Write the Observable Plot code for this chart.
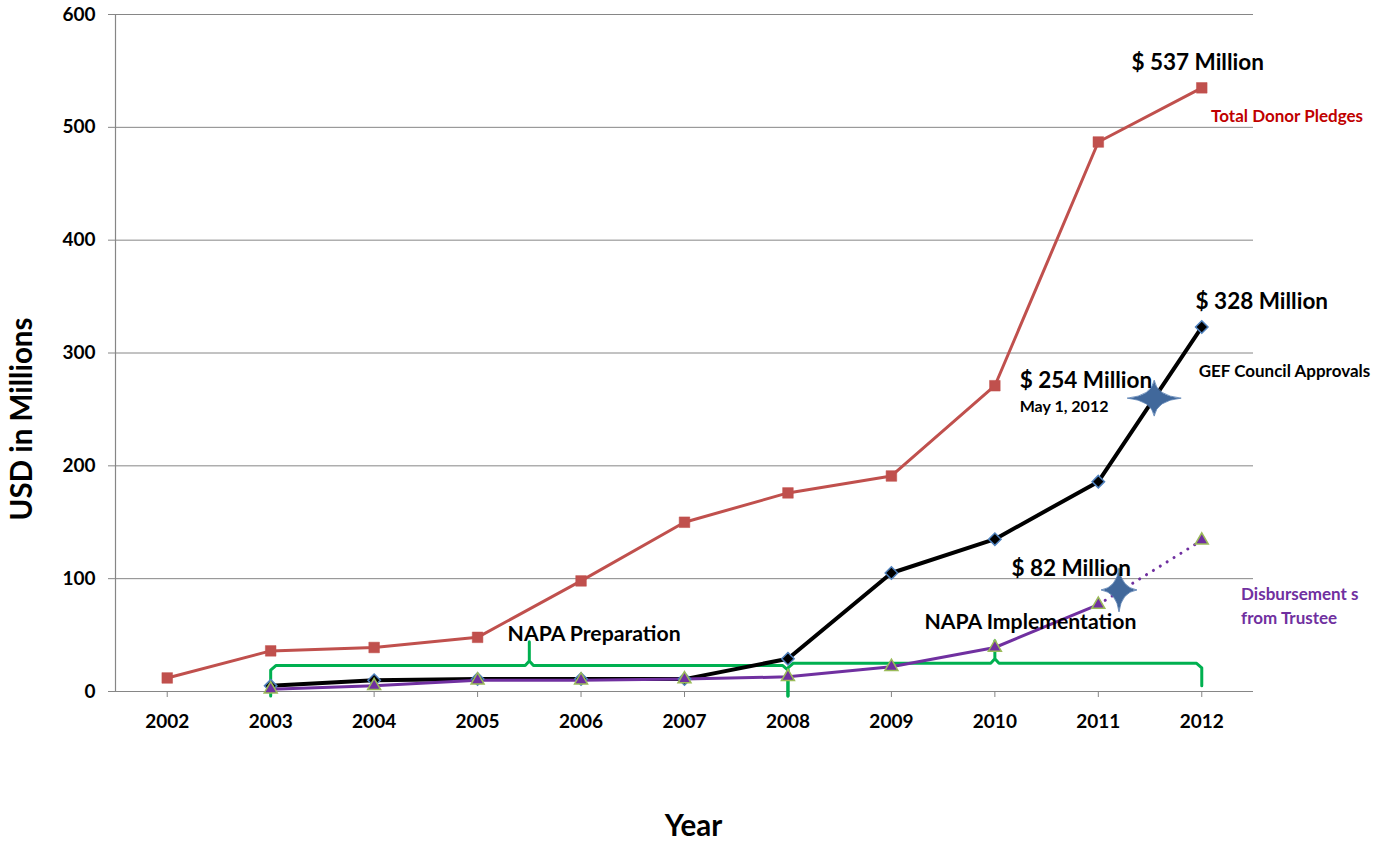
<!DOCTYPE html>
<html>
<head>
<meta charset="utf-8">
<script src="https://cdn.jsdelivr.net/npm/d3@7"></script>
<script src="https://cdn.jsdelivr.net/npm/@observablehq/plot@0.6"></script>
<style>
  html, body { margin: 0; padding: 0; background: white; }
  #chart svg { display: block; }
</style>
</head>
<body>
<div id="chart"></div>
<script>
// ---- Data ----
const years = [2002, 2003, 2004, 2005, 2006, 2007, 2008, 2009, 2010, 2011, 2012];
const pledges = [12, 36, 39, 48, 98, 150, 176, 191, 271, 487, 535];

const approvalYears = [2003, 2004, 2005, 2006, 2007, 2008, 2009, 2010, 2011, 2012];
const approvals = [5, 10, 11, 11, 11, 29, 105, 135, 186, 323];

const disbYears = [2003, 2004, 2005, 2006, 2007, 2008, 2009, 2010, 2011, 2012];
const disbursements = [2, 5, 10, 10, 11, 13, 22, 39, 77, 134];
const lastActualYear = 2011; // solid up to here, dotted projection after

const yTicks = [0, 100, 200, 300, 400, 500, 600];

// highlighted points (stars)
const starYears = [2011.54, 2011.2];
const starValues = [260, 90];

// NAPA period brackets
const bracketNames = ["NAPA Preparation", "NAPA Implementation"];
const bracketStart = [2003, 2008];
const bracketPeak = [2005.5, 2010];
const bracketEnd = [2008, 2012];
const bracketLevel = [23, 25];
const bracketTop = [44, 45];
const bracketStartBottom = [-4, -4];
const bracketEndBottom = [-4, 5];

// value annotations
const topLabel = "$ 537 Million";
const annoText = ["$ 328 Million", "$ 254 Million", "$ 82 Million"];
const annoX = [2011.94, 2010.24, 2010.16];
const annoY = [345, 275, 109];

// ---- Build tables ----
const pledgeRows = years.map((y, i) => ({year: y, value: pledges[i]}));
const approvalRows = approvalYears.map((y, i) => ({year: y, value: approvals[i]}));
const disbRows = disbYears.map((y, i) => ({year: y, value: disbursements[i]}));
const disbSolid = disbRows.filter(d => d.year <= lastActualYear);
const disbDotted = disbRows.filter(d => d.year >= lastActualYear);
const annoRows = annoText.map((t, i) => ({text: t, x: annoX[i], y: annoY[i]}));

function bracketPath(i) {
  const s = bracketStart[i], p = bracketPeak[i], e = bracketEnd[i];
  const L = bracketLevel[i], T = bracketTop[i];
  const dx = 0.05, dy = 4, px = 0.04;
  return [
    {x: s, y: bracketStartBottom[i]},
    {x: s, y: L - dy},
    {x: s + dx, y: L},
    {x: p - px, y: L},
    {x: p, y: L + dy},
    {x: p, y: T},
    {x: p, y: L + dy},
    {x: p + px, y: L},
    {x: e - dx, y: L},
    {x: e, y: L - dy},
    {x: e, y: bracketEndBottom[i]}
  ].map(d => ({...d, b: i}));
}
const bracketRows = bracketNames.flatMap((_, i) => bracketPath(i));

function star(w, h, c) {
  return {
    draw(ctx) {
      const a = w / 2, b = h / 2;
      ctx.moveTo(0, -b);
      ctx.quadraticCurveTo(c * 0.6, -c * 0.6, a, 0);
      ctx.quadraticCurveTo(c * 0.6, c * 0.6, 0, b);
      ctx.quadraticCurveTo(-c * 0.6, c * 0.6, -a, 0);
      ctx.quadraticCurveTo(-c * 0.6, -c * 0.6, 0, -b);
      ctx.closePath();
    }
  };
}

const FONT = "Lato, 'Open Sans', sans-serif";
const GRID = "#868686";

const chart = Plot.plot({
  width: 1395,
  height: 845,
  marginLeft: 115,
  marginRight: 142,
  marginTop: 14,
  marginBottom: 154,
  style: {fontFamily: FONT, fontWeight: "bold", background: "white", overflow: "visible"},
  x: {type: "linear", domain: [2001.5, 2012.5]},
  y: {domain: [0, 600]},
  marks: [
    Plot.ruleY(yTicks.filter(d => d > 0), {stroke: GRID, strokeWidth: 1}),
    Plot.ruleY([0], {stroke: GRID, strokeWidth: 1.2}),
    Plot.ruleX([2001.5], {stroke: GRID, strokeWidth: 1.2}),
    Plot.axisY({ticks: yTicks, tickSize: 7, tickPadding: 13, fontSize: 19, fontWeight: "bold",
      stroke: GRID, fill: "black", label: null}),
    Plot.axisX({ticks: years, tickFormat: d => String(d), tickSize: 6, tickPadding: 17,
      fontSize: 19, fontWeight: "bold", stroke: GRID, fill: "black", label: null}),

    // brackets
    Plot.line(bracketRows, {x: "x", y: "y", z: "b", stroke: "#00b050", strokeWidth: 3,
      strokeLinejoin: "round", strokeLinecap: "round"}),

    // series lines
    Plot.line(pledgeRows, {x: "year", y: "value", stroke: "#c0504d", strokeWidth: 3}),
    Plot.line(approvalRows, {x: "year", y: "value", stroke: "black", strokeWidth: 4}),
    Plot.line(disbSolid, {x: "year", y: "value", stroke: "#7030a0", strokeWidth: 3}),
    Plot.line(disbDotted, {x: "year", y: "value", stroke: "#7030a0", strokeWidth: 3,
      strokeDasharray: "0.1 8", strokeLinecap: "round"}),

    // markers
    Plot.dot(pledgeRows, {x: "year", y: "value", symbol: "square", r: 6, fill: "#c0504d", stroke: "#c0504d", strokeWidth: 0.5}),
    Plot.dot(approvalRows, {x: "year", y: "value", symbol: "diamond2", r: 5.6, fill: "black", stroke: "#4f81bd", strokeWidth: 1.5}),
    Plot.dot(disbRows, {x: "year", y: "value", symbol: "triangle2", r: 6.2, fill: "#7030a0", stroke: "#9bbb59", strokeWidth: 1.5}),

    // stars
    Plot.dot([0], {x: () => starYears[0], y: () => starValues[0], symbol: star(54, 36, 4), fill: "#41689b", stroke: "#5b82b4", strokeWidth: 0.8}),
    Plot.dot([1], {x: () => starYears[1], y: () => starValues[1], symbol: star(36, 44, 4), fill: "#41689b", stroke: "#5b82b4", strokeWidth: 0.8}),

    // value annotations
    Plot.text([topLabel], {x: 2011.96, y: 557, textAnchor: "middle", fontSize: 22.5, fontWeight: "bold", fill: "black"}),
    Plot.text(annoRows, {x: "x", y: "y", text: "text", textAnchor: "start", fontSize: 22.5, fontWeight: "bold", fill: "black"}),
    Plot.text(["May 1, 2012"], {x: annoX[1], y: 252, textAnchor: "start", fontSize: 16, fontWeight: "bold", fill: "black"}),

    // series labels
    Plot.text(["Total Donor Pledges"], {x: 2012.09, y: 510, textAnchor: "start", fontSize: 17, fontWeight: "bold", fill: "#c00000"}),
    Plot.text(["GEF Council Approvals"], {x: 2011.97, y: 284, textAnchor: "start", fontSize: 17, fontWeight: "bold", fill: "black"}),
    Plot.text(["Disbursement s", "from Trustee"], {x: 2012.38, y: (d, i) => [86, 65][i], textAnchor: "start", fontSize: 17, fontWeight: "bold", fill: "#7030a0"}),

    // bracket labels
    Plot.text(bracketNames, {x: (d, i) => [2005.29, 2009.32][i], y: (d, i) => [51, 61][i], textAnchor: "start", fontSize: 21.2, fontWeight: "bold", fill: "black"}),

    // axis titles
    Plot.text(["USD in Millions"], {frameAnchor: "left", textAnchor: "middle", lineAnchor: "middle", dx: -93, dy: 66, rotate: -90, fontSize: 29.5, fontWeight: "bold", fill: "black"}),
    Plot.text(["Year"], {frameAnchor: "bottom", textAnchor: "middle", lineAnchor: "middle", dx: 9, dy: 135, fontSize: 29.5, fontWeight: "bold", fill: "black"})
  ]
});

document.getElementById("chart").appendChild(chart);
</script>
</body>
</html>
